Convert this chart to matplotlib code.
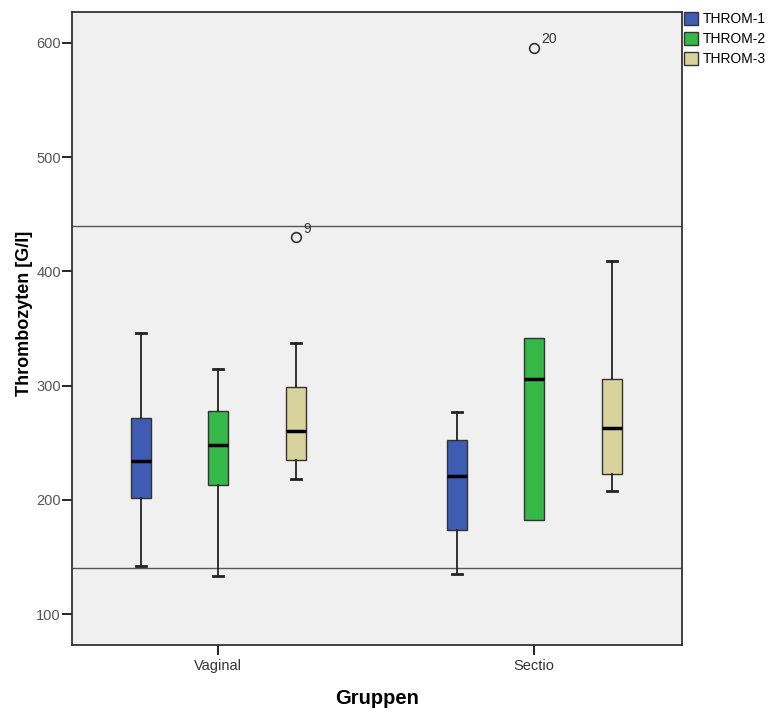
import numpy as np
import matplotlib
matplotlib.use("Agg")
import matplotlib.pyplot as plt
from matplotlib.patches import Patch

plt.rcParams['font.family'] = ['Liberation Sans', 'DejaVu Sans']

# Data
groups = ["Vaginal", "Sectio"]
series = ["THROM-1", "THROM-2", "THROM-3"]
colors = ["#3f5cb5", "#35b847", "#d8d29c"]

# [whisker low, q1, median, q3, whisker high] per group, per series
stats_vaginal = [
    [142, 202, 234, 272, 346],
    [133, 213, 248, 278, 315],
    [218, 235, 260, 299, 337],
]
stats_sectio = [
    [135, 174, 221, 252, 277],
    [182, 182, 306, 342, 342],
    [208, 223, 263, 306, 409],
]
outliers_vaginal = [[], [], [430]]
outliers_sectio = [[], [596], []]
outlier_labels_vaginal = [[], [], ["9"]]
outlier_labels_sectio = [[], ["20"], []]

ref_lines = [440, 140]

fig = plt.figure(figsize=(7.74, 7.15), dpi=100, facecolor="white")
ax = fig.add_axes([0.093, 0.098, 0.788, 0.885])
ax.set_facecolor("#f0f0f0")

offsets = [-0.243, 0.0, 0.247]
width = 0.064

all_stats = [stats_vaginal, stats_sectio]
all_out = [outliers_vaginal, outliers_sectio]
all_lab = [outlier_labels_vaginal, outlier_labels_sectio]

for ref in ref_lines:
    ax.axhline(ref, color="#555555", lw=1.0, zorder=1)

for gi, g in enumerate(groups):
    for si in range(len(series)):
        lo, q1, med, q3, hi = all_stats[gi][si]
        st = dict(whislo=lo, q1=q1, med=med, q3=q3, whishi=hi,
                  fliers=all_out[gi][si])
        pos = gi + offsets[si]
        # no visible caps when the whisker ends on the box edge
        cap_w = 0 if (lo == q1 and hi == q3) else width * 0.5
        ax.bxp([st], positions=[pos], widths=width, patch_artist=True,
               showfliers=True, capwidths=cap_w,
               boxprops=dict(facecolor=colors[si], edgecolor="#333333", lw=1.0),
               medianprops=dict(color="black", lw=2.5),
               whiskerprops=dict(color="#222222", lw=1.3),
               capprops=dict(color="#222222", lw=2.0),
               flierprops=dict(marker="o", markersize=7, markerfacecolor="none",
                               markeredgecolor="#333333", markeredgewidth=1.2),
               manage_ticks=False, zorder=3)
        for v, lab in zip(all_out[gi][si], all_lab[gi][si]):
            ax.annotate(lab, (pos, v), xytext=(5, 3), textcoords="offset points",
                        fontsize=10, color="#333333")

ax.set_xlim(-0.462, 1.468)
ax.set_ylim(73, 627)
ax.set_xticks(range(len(groups)))
ax.set_xticklabels(groups, fontsize=10.5, color="#333333")
ax.set_yticks([100, 200, 300, 400, 500, 600])
ax.tick_params(axis="y", labelsize=10.5, labelcolor="#555555", length=7, width=1.2, pad=1)
ax.tick_params(axis="x", length=7, width=1.2, pad=3)
for sp in ax.spines.values():
    sp.set_color("#333333")
    sp.set_linewidth(1.3)

ax.set_ylabel("Thrombozyten [G/l]", fontsize=13, fontweight="bold")
ax.yaxis.set_label_coords(-0.064, 0.524)
ax.set_xlabel("Gruppen", fontsize=14.5, fontweight="bold", labelpad=12)

handles = [Patch(facecolor=c, edgecolor="#333333", label=s) for c, s in zip(colors, series)]
fig.legend(handles=handles, loc="upper left", bbox_to_anchor=(0.884, 0.983),
           frameon=False, fontsize=10, handlelength=1.0, handleheight=1.0,
           handletextpad=0.3, labelspacing=0.43, borderaxespad=0.0,
           borderpad=0.0)

plt.savefig("out.png", dpi=100, facecolor="white")
